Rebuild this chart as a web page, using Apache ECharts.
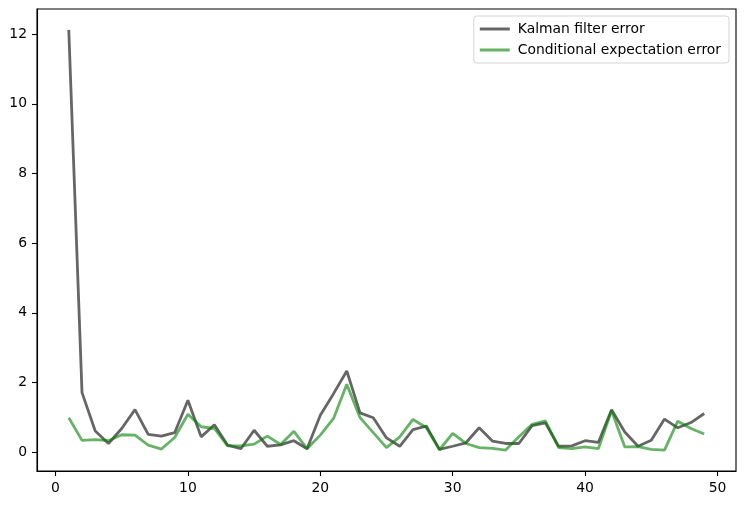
<!DOCTYPE html>
<html>
<head>
<meta charset="utf-8">
<script src="https://cdn.jsdelivr.net/npm/echarts@6/dist/echarts.min.js"></script>
<style>
html,body{margin:0;padding:0;background:#fff;}
#chart{width:744px;height:505px;}
</style>
</head>
<body>
<div id="chart"></div>
<script>
const steps = Array.from({length: 49}, (_, i) => i + 1);
const kalmanError = [12.12, 1.71, 0.61, 0.25, 0.68, 1.22, 0.51, 0.46, 0.56, 1.49,
  0.44, 0.79, 0.20, 0.10, 0.63, 0.17, 0.21, 0.33, 0.10, 1.06,
  1.68, 2.33, 1.13, 0.99, 0.41, 0.17, 0.65, 0.75, 0.08, 0.17,
  0.27, 0.70, 0.32, 0.25, 0.25, 0.76, 0.84, 0.17, 0.18, 0.33,
  0.28, 1.22, 0.58, 0.17, 0.34, 0.95, 0.70, 0.85, 1.11];
const condExpError = [0.99, 0.34, 0.36, 0.33, 0.50, 0.49, 0.20, 0.09, 0.42, 1.09,
  0.73, 0.68, 0.18, 0.18, 0.23, 0.46, 0.22, 0.60, 0.10, 0.49,
  0.97, 1.95, 0.99, 0.56, 0.13, 0.44, 0.94, 0.71, 0.07, 0.54,
  0.25, 0.13, 0.11, 0.06, 0.44, 0.80, 0.90, 0.13, 0.10, 0.15,
  0.10, 1.19, 0.15, 0.16, 0.08, 0.06, 0.89, 0.68, 0.52];
const xTicks = [0, 10, 20, 30, 40, 50];
const yTicks = [0, 2, 4, 6, 8, 10, 12];

const chart = echarts.init(document.getElementById('chart'), null, {renderer: 'canvas'});
const font = 'DejaVu Sans';
chart.setOption({
  animation: false,
  backgroundColor: '#fff',
  grid: {left: 37, right: 8, top: 9, bottom: 34, show: true, borderColor: '#000', borderWidth: 1.1, backgroundColor: 'transparent'},
  xAxis: {
    type: 'value', min: -1.4, max: 51.4,
    axisLine: {show: true, onZero: false, lineStyle: {color: '#000', width: 1.1}},
    axisTick: {show: true, length: 5, lineStyle: {color: '#000', width: 1.1}, customValues: xTicks},
    axisLabel: {color: '#000', fontFamily: font, fontSize: 13.9, margin: 10, customValues: xTicks},
    splitLine: {show: false}
  },
  yAxis: {
    type: 'value', min: -0.54, max: 12.72,
    axisLine: {show: true, onZero: false, lineStyle: {color: '#000', width: 1.1}},
    axisTick: {show: true, length: 5, lineStyle: {color: '#000', width: 1.1}, customValues: yTicks},
    axisLabel: {color: '#000', fontFamily: font, fontSize: 13.9, margin: 10, customValues: yTicks},
    splitLine: {show: false}
  },
  legend: {
    orient: 'vertical', right: 15, top: 16,
    padding: [6, 8, 6, 6],
    itemWidth: 30, itemHeight: 3, itemGap: 7,
    borderColor: '#d5d5d5', borderWidth: 1, borderRadius: 3,
    backgroundColor: '#fff',
    textStyle: {fontFamily: font, fontSize: 13.9, color: '#000', padding: [0, 0, 0, 3]},
    data: [
      {name: 'Kalman filter error', icon: 'rect', itemStyle: {color: 'rgba(0,0,0,0.6)'}},
      {name: 'Conditional expectation error', icon: 'rect', itemStyle: {color: 'rgba(0,128,0,0.6)'}}
    ]
  },
  series: [
    {
      name: 'Kalman filter error', type: 'line', showSymbol: false, symbol: 'none',
      data: steps.map((s, i) => [s, kalmanError[i]]),
      lineStyle: {color: 'rgba(0,0,0,0.6)', width: 2.8},
      itemStyle: {color: 'rgba(0,0,0,0.6)'}
    },
    {
      name: 'Conditional expectation error', type: 'line', showSymbol: false, symbol: 'none',
      data: steps.map((s, i) => [s, condExpError[i]]),
      lineStyle: {color: 'rgba(0,128,0,0.6)', width: 2.8},
      itemStyle: {color: 'rgba(0,128,0,0.6)'}
    }
  ]
});
</script>
</body>
</html>
